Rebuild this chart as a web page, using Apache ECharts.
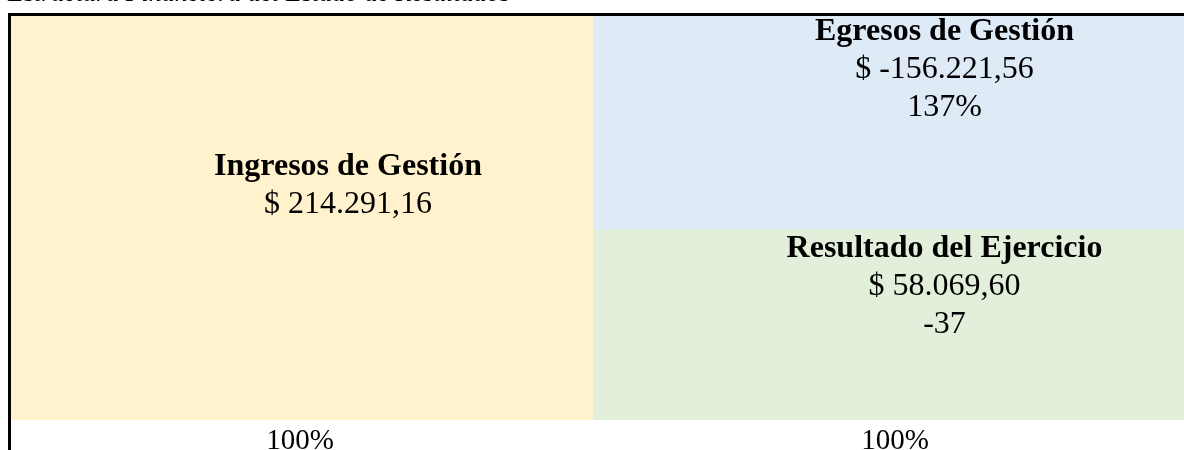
<!DOCTYPE html>
<html>
<head>
<meta charset="utf-8">
<script src="https://cdn.jsdelivr.net/npm/echarts@6/dist/echarts.min.js"></script>
<style>
  body { margin: 0; background: #fff; }
  #grafico { width: 1184px; height: 450px; }
</style>
</head>
<body>
<div id="grafico"></div>
<script>
const titulo = 'Estructura Financiera del Estado de Resultados';
const cuentas = ['Ingresos de Gestión', 'Egresos de Gestión', 'Resultado del Ejercicio'];
const montos = [214291.16, -156221.56, 58069.60];
const porcentajes = ['', '137%', '-37'];
// parte del alto que ocupa cada bloque
const alturas = [100, 52.7, 47.3];
const etiquetasEje = ['100%', '100%'];
const colores = ['#FFF2CC', '#DEEAF6', '#E2EFDA'];

const fuente = '"Liberation Serif", "Times New Roman", serif';

function formatoMonto(n) {
  const neg = n < 0;
  let partes = Math.abs(n).toFixed(2).split('.');
  let entero = partes[0].replace(/\B(?=(\d{3})+(?!\d))/g, '.');
  return '$ ' + (neg ? '-' : '') + entero + ',' + partes[1];
}

function textoBloque(i) {
  let t = '{t|' + cuentas[i] + '}\n{v|' + formatoMonto(montos[i]) + '}';
  if (porcentajes[i]) t += '\n{v|' + porcentajes[i] + '}';
  return t;
}

const rich = {
  t: { fontFamily: fuente, fontSize: 32, fontWeight: 'bold', color: '#000', lineHeight: 38 },
  v: { fontFamily: fuente, fontSize: 32, color: '#000', lineHeight: 38 }
};

const ejeX = (grid, i, pad) => ({
  type: 'category',
  gridIndex: grid,
  data: [etiquetasEje[i]],
  axisLine: { show: false },
  axisTick: { show: false },
  axisLabel: { fontFamily: fuente, fontSize: 29, color: '#000', margin: 7, lineHeight: 29, padding: pad }
});
const ejeY = (grid) => ({ type: 'value', gridIndex: grid, min: 0, max: 100, show: false });

const chart = echarts.init(document.getElementById('grafico'));
chart.setOption({
  animation: false,
  grid: [
    { left: 11, width: 582, top: 16, bottom: 30, containLabel: false, outerBoundsMode: 'none' },
    { left: 593, right: 0, top: 16, bottom: 30, containLabel: false, outerBoundsMode: 'none' }
  ],
  xAxis: [ejeX(0, 0, [0, 4, 0, 0]), ejeX(1, 1, [0, 0, 0, 13])],
  yAxis: [ejeY(0), ejeY(1)],
  series: [
    {
      name: cuentas[0], type: 'bar', xAxisIndex: 0, yAxisIndex: 0,
      barWidth: '100%', data: [alturas[0]],
      itemStyle: { color: colores[0] },
      label: { show: true, position: 'inside', offset: [46, -32], formatter: textoBloque(0), rich: rich }
    },
    {
      name: cuentas[2], type: 'bar', xAxisIndex: 1, yAxisIndex: 1, stack: 'der',
      barWidth: '100%', data: [alturas[2]],
      itemStyle: { color: colores[2] },
      label: { show: true, position: 'inside', offset: [56, -38], formatter: textoBloque(2), rich: rich }
    },
    {
      name: cuentas[1], type: 'bar', xAxisIndex: 1, yAxisIndex: 1, stack: 'der',
      barWidth: '100%', data: [alturas[1]],
      itemStyle: { color: colores[1] },
      label: { show: true, position: 'inside', offset: [56, -53], formatter: textoBloque(1), rich: rich }
    }
  ],
  graphic: [
    { type: 'line', shape: { x1: 9.5, y1: 13, x2: 9.5, y2: 450 }, style: { stroke: '#000', lineWidth: 3 } },
    { type: 'line', shape: { x1: 8, y1: 14.5, x2: 1184, y2: 14.5 }, style: { stroke: '#000', lineWidth: 3 } },
    {
      type: 'text', x: 8, y: 7,
      style: { text: titulo, fontFamily: fuente, fontSize: 26, fontStyle: 'italic', fill: '#000', verticalAlign: 'bottom' }
    }
  ]
});
</script>
</body>
</html>
